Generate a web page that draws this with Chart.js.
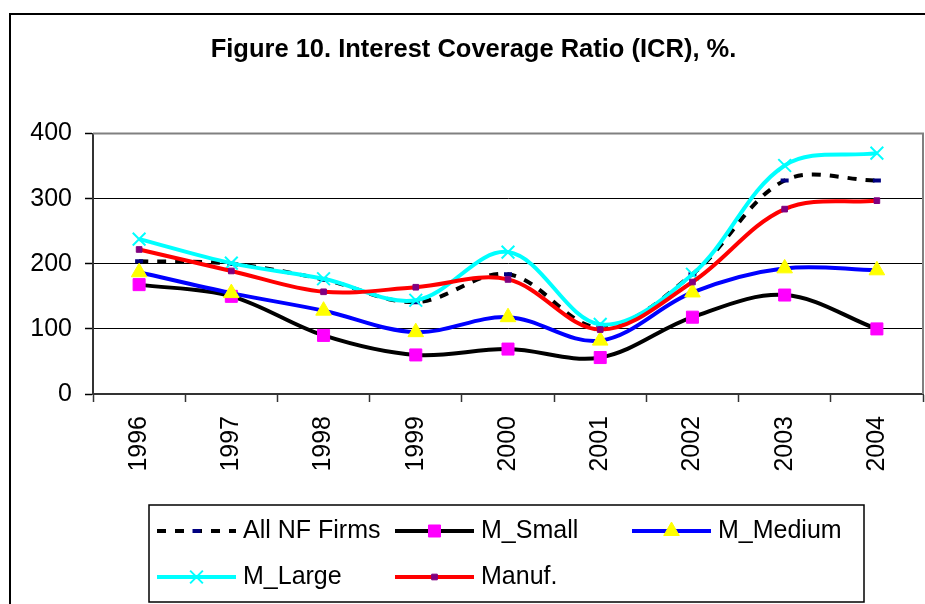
<!DOCTYPE html>
<html><head><meta charset="utf-8">
<script src="https://cdn.jsdelivr.net/npm/chart.js@4.4.0/dist/chart.umd.min.js"></script>
<style>
html,body{margin:0;padding:0;background:#fff;overflow:hidden;width:925px;height:604px;}
#frame{position:absolute;left:9px;top:13px;width:1000px;height:700px;border:2px solid #000;box-sizing:border-box;}
#wrap{position:absolute;left:0;top:0;width:934px;height:604px;}
</style></head><body>
<div id="frame"></div>
<div id="wrap"><canvas id="c" width="934" height="604"></canvas></div>
<script>
const years = ['1996','1997','1998','1999','2000','2001','2002','2003','2004'];
const allNF   = [204, 200, 176, 141, 184, 102, 184, 328, 328];
const mSmall  = [168, 150,  90,  60,  69,  56, 118, 152, 100];
const mMedium = [187, 155, 128,  95, 118,  82, 156, 193, 190];
const mLarge  = [238, 201, 177, 144, 218, 107, 184, 351, 370];
const manuf   = [222, 189, 157, 164, 176,  99, 172, 284, 297];
const yMin = 0, yMax = 400, yStep = 100;
const titleText = 'Figure 10. Interest Coverage Ratio (ICR), %.';

const FONT = '"Liberation Sans", Arial, sans-serif';

function drawMarker(ctx, style, x, y, r, fill, stroke, lw) {
  ctx.save();
  ctx.fillStyle = fill; ctx.strokeStyle = stroke; ctx.lineWidth = lw;
  ctx.beginPath();
  if (style === 'rect') {
    const s = Math.SQRT1_2 * r;
    ctx.rect(x - s, y - s, 2 * s, 2 * s); ctx.fill(); ctx.stroke();
  } else if (style === 'triangle') {
    ctx.moveTo(x, y - r);
    ctx.lineTo(x + r * Math.sin(Math.PI * 2 / 3), y - r * Math.cos(Math.PI * 2 / 3));
    ctx.lineTo(x - r * Math.sin(Math.PI * 2 / 3), y - r * Math.cos(Math.PI * 2 / 3));
    ctx.closePath(); ctx.fill(); ctx.stroke();
  } else if (style === 'crossRot') {
    const d = Math.SQRT1_2 * r;
    ctx.moveTo(x - d, y - d); ctx.lineTo(x + d, y + d);
    ctx.moveTo(x + d, y - d); ctx.lineTo(x - d, y + d);
    ctx.stroke();
  } else if (style === 'line') {
    ctx.moveTo(x - r, y); ctx.lineTo(x + r, y); ctx.stroke();
  }
  ctx.restore();
}

const framePlugin = {
  id: 'frame',
  beforeDatasetsDraw(chart) {
    const {ctx, chartArea: a} = chart;
    ctx.save();
    ctx.strokeStyle = '#808080'; ctx.lineWidth = 2;
    ctx.beginPath();
    ctx.moveTo(a.left, a.top); ctx.lineTo(a.right, a.top); ctx.lineTo(a.right, a.bottom);
    ctx.stroke();
    ctx.restore();
  }
};

const legendPlugin = {
  id: 'customLegend',
  afterDraw(chart) {
    const ctx = chart.ctx;
    const box = {l: 149, t: 505, r: 864, b: 602};
    const rows = [531, 577], cols = [157, 395, 632], symW = 79, gap = 7;
    ctx.save();
    ctx.fillStyle = '#fff';
    ctx.fillRect(box.l, box.t, box.r - box.l, box.b - box.t);
    ctx.strokeStyle = '#000'; ctx.lineWidth = 1.5;
    ctx.strokeRect(box.l, box.t, box.r - box.l, box.b - box.t);
    chart.data.datasets.forEach((ds, i) => {
      const y = rows[Math.floor(i / 3)], x = cols[i % 3];
      ctx.save();
      ctx.strokeStyle = ds.borderColor; ctx.lineWidth = ds.borderWidth;
      ctx.setLineDash(ds.borderDash || []);
      ctx.beginPath(); ctx.moveTo(x, y); ctx.lineTo(x + symW, y); ctx.stroke();
      ctx.restore();
      drawMarker(ctx, ds.pointStyle, x + symW / 2, y, ds.pointRadius,
                 ds.pointBackgroundColor, ds.pointBorderColor, ds.pointBorderWidth);
      ctx.fillStyle = '#000';
      ctx.font = '25px ' + FONT;
      ctx.textBaseline = 'middle'; ctx.textAlign = 'left';
      ctx.fillText(ds.label, x + symW + gap, y);
    });
    ctx.restore();
  }
};

const common = {fill: false, tension: 0.35, borderWidth: 4, pointHoverRadius: 0};

new Chart(document.getElementById('c'), {
  type: 'line',
  data: {
    labels: years,
    datasets: [
      Object.assign({}, common, {label: 'All NF Firms', data: allNF, borderColor: '#000', borderDash: [9, 9],
        pointStyle: 'line', pointRadius: 4, pointBorderColor: '#000080', pointBackgroundColor: '#000080', pointBorderWidth: 4, order: 5}),
      Object.assign({}, common, {label: 'M_Small', data: mSmall, borderColor: '#000',
        pointStyle: 'rect', pointRadius: 8.5, pointBorderColor: '#FF00FF', pointBackgroundColor: '#FF00FF', pointBorderWidth: 1, order: 4}),
      Object.assign({}, common, {label: 'M_Medium', data: mMedium, borderColor: '#0000FF',
        pointStyle: 'triangle', pointRadius: 9, pointBorderColor: '#FFFF00', pointBackgroundColor: '#FFFF00', pointBorderWidth: 1, order: 3}),
      Object.assign({}, common, {label: 'M_Large', data: mLarge, borderColor: '#00FFFF',
        pointStyle: 'crossRot', pointRadius: 9, pointBorderColor: '#00FFFF', pointBackgroundColor: '#00FFFF', pointBorderWidth: 2, order: 2}),
      Object.assign({}, common, {label: 'Manuf.', data: manuf, borderColor: '#FF0000',
        pointStyle: 'rect', pointRadius: 4, pointBorderColor: '#800080', pointBackgroundColor: '#800080', pointBorderWidth: 1, order: 1})
    ]
  },
  options: {
    responsive: false, animation: false, devicePixelRatio: 1,
    layout: {padding: {left: 13, right: 0, top: 0, bottom: 0}},
    plugins: {
      legend: {display: false},
      tooltip: {enabled: false},
      title: {display: true, text: titleText, color: '#000',
        font: {family: FONT, size: 25.5, weight: 'bold'}, padding: {top: 35, bottom: 68}}
    },
    scales: {
      x: {
        type: 'category', offset: true,
        grid: {offset: true, drawOnChartArea: false, drawTicks: true, tickLength: 8, tickColor: '#333', tickWidth: 1.5},
        border: {display: true, color: '#333', width: 2},
        ticks: {color: '#000', font: {family: FONT, size: 25}, minRotation: 90, maxRotation: 90, autoSkip: false, padding: 14},
        afterFit(s) { s.height = 210; }
      },
      y: {
        min: yMin, max: yMax,
        ticks: {stepSize: yStep, color: '#000', font: {family: FONT, size: 25}, padding: 13},
        grid: {color: (c) => (c.tick && c.tick.value === yMax) ? 'rgba(0,0,0,0)' : '#000', lineWidth: 1,
               tickLength: 8, tickColor: '#000', tickWidth: 1.5},
        border: {display: true, color: '#333', width: 2},
        afterFit(s) { s.width = 80; }
      }
    }
  },
  plugins: [framePlugin, legendPlugin]
});
</script>
</body></html>
